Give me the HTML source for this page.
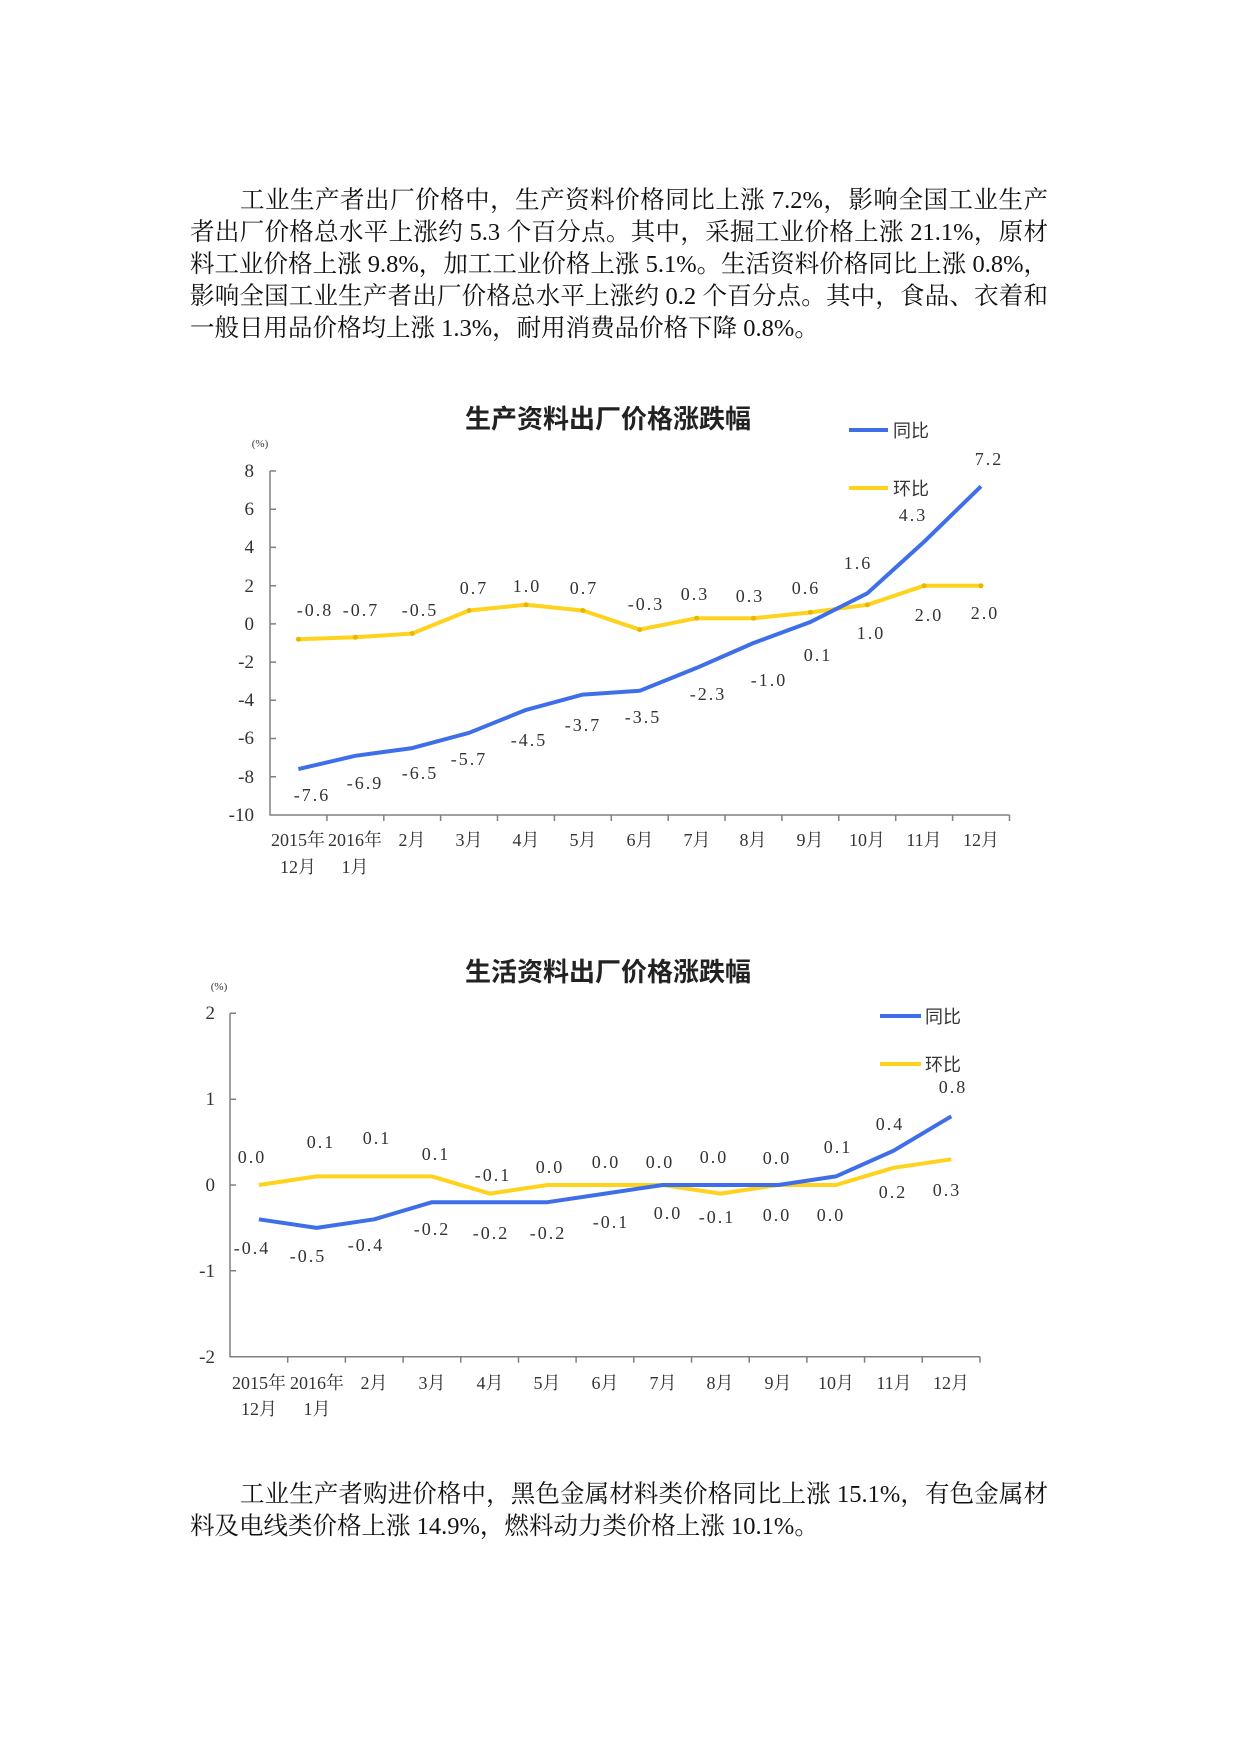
<!DOCTYPE html>
<html><head><meta charset="utf-8">
<style>
html,body{margin:0;padding:0;background:#fff;}
body{width:1241px;height:1754px;position:relative;overflow:hidden;font-family:"Liberation Serif","Noto Serif CJK SC",serif;color:#111;}
.ln{position:absolute;left:190px;width:858px;font-size:24.5px;line-height:32px;height:32px;white-space:nowrap;text-align:justify;text-align-last:justify;font-family:"Liberation Serif","Noto Serif CJK SC","Noto Sans CJK SC",serif;}
.last{text-align-last:left;}
svg{position:absolute;left:0;top:0;}
</style></head><body>
<div class="ln" style="top:185px;padding-left:50px;width:808px;">工业生产者出厂价格中，生产资料价格同比上涨 7.2%，影响全国工业生产</div>
<div class="ln" style="top:217px;">者出厂价格总水平上涨约 5.3 个百分点。其中，采掘工业价格上涨 21.1%，原材</div>
<div class="ln" style="top:249px;">料工业价格上涨 9.8%，加工工业价格上涨 5.1%。生活资料价格同比上涨 0.8%，</div>
<div class="ln" style="top:281px;">影响全国工业生产者出厂价格总水平上涨约 0.2 个百分点。其中，食品、衣着和</div>
<div class="ln last" style="top:313px;">一般日用品价格均上涨 1.3%，耐用消费品价格下降 0.8%。</div>

<div class="ln" style="top:1479px;padding-left:50px;width:808px;">工业生产者购进价格中，黑色金属材料类价格同比上涨 15.1%，有色金属材</div>
<div class="ln last" style="top:1511px;">料及电线类价格上涨 14.9%，燃料动力类价格上涨 10.1%。</div>

<svg width="1241" height="1754" viewBox="0 0 1241 1754" font-family="Liberation Serif, Noto Serif CJK SC, serif">
<!-- Chart 1 -->
<text x="608" y="428" font-size="26" font-weight="bold" text-anchor="middle" font-family="Liberation Sans, Noto Sans CJK SC, sans-serif" fill="#222">生产资料出厂价格涨跌幅</text>
<text x="260" y="447" font-size="11" text-anchor="middle" fill="#333">(%)</text>
<g stroke="#808080" stroke-width="1.5" fill="none">
<path d="M270 471 V815 H1009.5"/>
<path d="M270 471h6M270 509.2h6M270 547.4h6M270 585.7h6M270 623.9h6M270 662.1h6M270 700.3h6M270 738.5h6M270 776.8h6"/>
<path d="M326.9 815v6M383.8 815v6M440.6 815v6M497.5 815v6M554.4 815v6M611.3 815v6M668.2 815v6M725 815v6M781.9 815v6M838.8 815v6M895.7 815v6M952.6 815v6M1009.5 815v6"/>
</g>
<g font-size="19" text-anchor="end" fill="#333">
<text x="254" y="477">8</text><text x="254" y="515">6</text><text x="254" y="553">4</text><text x="254" y="592">2</text><text x="254" y="630">0</text><text x="254" y="668">-2</text><text x="254" y="706">-4</text><text x="254" y="744">-6</text><text x="254" y="783">-8</text><text x="254" y="821">-10</text>
</g>
<g font-size="18" text-anchor="middle" fill="#333">
<text x="298" y="846">2015年</text><text x="355" y="846">2016年</text><text x="412" y="846">2月</text><text x="469" y="846">3月</text><text x="526" y="846">4月</text><text x="583" y="846">5月</text><text x="640" y="846">6月</text><text x="697" y="846">7月</text><text x="753" y="846">8月</text><text x="810" y="846">9月</text><text x="867" y="846">10月</text><text x="924" y="846">11月</text><text x="981" y="846">12月</text>
<text x="298" y="873">12月</text><text x="355" y="873">1月</text>
</g>
<polyline fill="none" stroke="#FFD21E" stroke-width="4" stroke-linejoin="round" points="298.4,639.2 355.3,637.3 412.2,633.5 469.1,610.5 526,604.8 582.8,610.5 639.7,629.6 696.6,618.2 753.5,618.2 810.4,612.4 867.3,604.8 924.2,585.7 981,585.7"/>
<polyline fill="none" stroke="#3F6FE8" stroke-width="4" stroke-linejoin="round" points="298.4,769.1 355.3,755.8 412.2,748.1 469.1,732.8 526,709.9 582.8,694.6 639.7,690.8 696.6,667.9 753.5,643 810.4,622 867.3,593.3 924.2,541.7 981,486.3"/>
<g fill="#E8B800"><circle cx="298.4" cy="639.2" r="2.5"/><circle cx="355.3" cy="637.3" r="2.5"/><circle cx="412.2" cy="633.5" r="2.5"/><circle cx="469.1" cy="610.5" r="2.5"/><circle cx="526" cy="604.8" r="2.5"/><circle cx="582.8" cy="610.5" r="2.5"/><circle cx="639.7" cy="629.6" r="2.5"/><circle cx="696.6" cy="618.2" r="2.5"/><circle cx="753.5" cy="618.2" r="2.5"/><circle cx="810.4" cy="612.4" r="2.5"/><circle cx="867.3" cy="604.8" r="2.5"/><circle cx="924.2" cy="585.7" r="2.5"/><circle cx="981" cy="585.7" r="2.5"/></g>
<g font-size="18" text-anchor="middle" fill="#333" letter-spacing="2">
<text x="312" y="801">-7.6</text><text x="365" y="789">-6.9</text><text x="420" y="779">-6.5</text><text x="469" y="765">-5.7</text><text x="529" y="746">-4.5</text><text x="583" y="731">-3.7</text><text x="643" y="723">-3.5</text><text x="708" y="700">-2.3</text><text x="769" y="686">-1.0</text><text x="818" y="661">0.1</text><text x="858" y="569">1.6</text><text x="913" y="521">4.3</text><text x="989" y="465">7.2</text>
<text x="315" y="616">-0.8</text><text x="361" y="616">-0.7</text><text x="420" y="616">-0.5</text><text x="474" y="594">0.7</text><text x="527" y="592">1.0</text><text x="584" y="594">0.7</text><text x="646" y="610">-0.3</text><text x="695" y="600">0.3</text><text x="750" y="602">0.3</text><text x="806" y="594">0.6</text><text x="871" y="639">1.0</text><text x="929" y="621">2.0</text><text x="985" y="619">2.0</text>
</g>
<line x1="849" y1="430" x2="888" y2="430" stroke="#3F6FE8" stroke-width="4"/>
<text x="893" y="437" font-size="18" font-family="Liberation Sans, Noto Sans CJK SC, sans-serif" fill="#333">同比</text>
<line x1="849" y1="488" x2="888" y2="488" stroke="#FFD21E" stroke-width="4"/>
<text x="893" y="495" font-size="18" font-family="Liberation Sans, Noto Sans CJK SC, sans-serif" fill="#333">环比</text>

<!-- Chart 2 -->
<text x="608" y="981" font-size="26" font-weight="bold" text-anchor="middle" font-family="Liberation Sans, Noto Sans CJK SC, sans-serif" fill="#222">生活资料出厂价格涨跌幅</text>
<text x="219" y="990" font-size="11" text-anchor="middle" fill="#333">(%)</text>
<g stroke="#808080" stroke-width="1.5" fill="none">
<path d="M230 1013.3 V1356.7 H980"/>
<path d="M230 1013.3h6M230 1099.2h6M230 1185h6M230 1270.8h6"/>
<path d="M287.7 1356.7v6M345.4 1356.7v6M403.1 1356.7v6M460.8 1356.7v6M518.5 1356.7v6M576.1 1356.7v6M633.8 1356.7v6M691.5 1356.7v6M749.2 1356.7v6M806.9 1356.7v6M864.6 1356.7v6M922.3 1356.7v6M980 1356.7v6"/>
</g>
<g font-size="19" text-anchor="end" fill="#333">
<text x="215" y="1019">2</text><text x="215" y="1105">1</text><text x="215" y="1191">0</text><text x="215" y="1277">-1</text><text x="215" y="1363">-2</text>
</g>
<g font-size="18" text-anchor="middle" fill="#333">
<text x="259" y="1389">2015年</text><text x="317" y="1389">2016年</text><text x="374" y="1389">2月</text><text x="432" y="1389">3月</text><text x="490" y="1389">4月</text><text x="547" y="1389">5月</text><text x="605" y="1389">6月</text><text x="663" y="1389">7月</text><text x="720" y="1389">8月</text><text x="778" y="1389">9月</text><text x="836" y="1389">10月</text><text x="894" y="1389">11月</text><text x="951" y="1389">12月</text>
<text x="259" y="1415">12月</text><text x="317" y="1415">1月</text>
</g>
<polyline fill="none" stroke="#FFD21E" stroke-width="4" stroke-linejoin="round" points="258.9,1185 316.6,1176.4 374.3,1176.4 432,1176.4 489.7,1193.6 547.4,1185 605.1,1185 662.8,1185 720.5,1193.6 778.2,1185 835.9,1185 893.6,1167.8 951.3,1159.3"/>
<polyline fill="none" stroke="#3F6FE8" stroke-width="4" stroke-linejoin="round" points="258.9,1219.3 316.6,1227.9 374.3,1219.3 432,1202.2 489.7,1202.2 547.4,1202.2 605.1,1193.6 662.8,1185 720.5,1185 778.2,1185 835.9,1176.4 893.6,1150.7 951.3,1116.3"/>
<g font-size="18" text-anchor="middle" fill="#333" letter-spacing="2">
<text x="252" y="1254">-0.4</text><text x="308" y="1262">-0.5</text><text x="366" y="1251">-0.4</text><text x="432" y="1235">-0.2</text><text x="491" y="1239">-0.2</text><text x="548" y="1239">-0.2</text><text x="611" y="1228">-0.1</text><text x="668" y="1219">0.0</text><text x="717" y="1223">-0.1</text><text x="777" y="1221">0.0</text><text x="831" y="1221">0.0</text><text x="890" y="1130">0.4</text><text x="953" y="1093">0.8</text>
<text x="252" y="1163">0.0</text><text x="321" y="1148">0.1</text><text x="377" y="1144">0.1</text><text x="436" y="1160">0.1</text><text x="493" y="1181">-0.1</text><text x="550" y="1173">0.0</text><text x="606" y="1168">0.0</text><text x="660" y="1168">0.0</text><text x="714" y="1163">0.0</text><text x="777" y="1164">0.0</text><text x="838" y="1153">0.1</text><text x="893" y="1198">0.2</text><text x="947" y="1196">0.3</text>
</g>
<line x1="880" y1="1016" x2="921" y2="1016" stroke="#3F6FE8" stroke-width="4"/>
<text x="925" y="1023" font-size="18" font-family="Liberation Sans, Noto Sans CJK SC, sans-serif" fill="#333">同比</text>
<line x1="880" y1="1064" x2="921" y2="1064" stroke="#FFD21E" stroke-width="4"/>
<text x="925" y="1071" font-size="18" font-family="Liberation Sans, Noto Sans CJK SC, sans-serif" fill="#333">环比</text>
</svg>
</body></html>
